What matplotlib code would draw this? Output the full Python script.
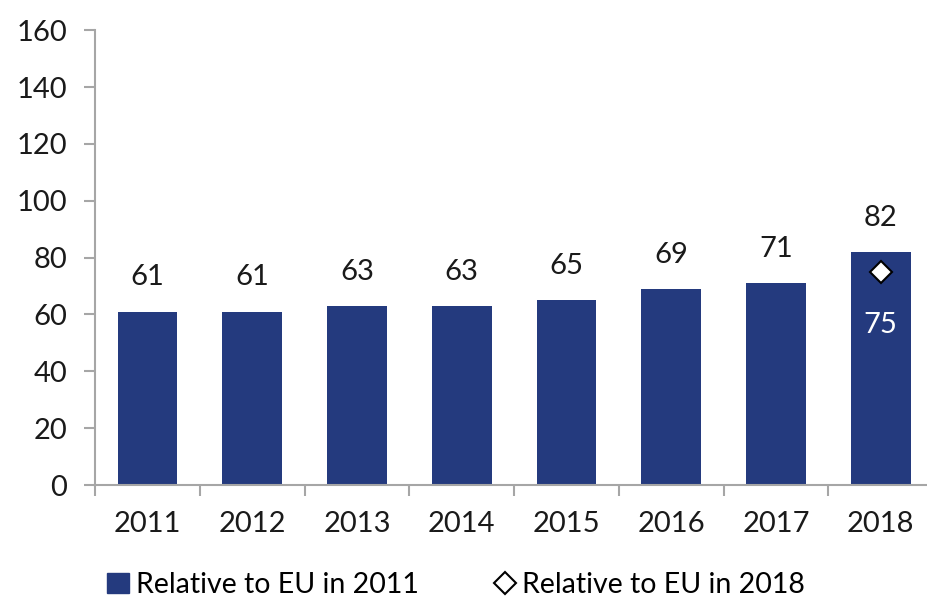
import numpy as np
import matplotlib.pyplot as plt
from matplotlib.lines import Line2D
from matplotlib.patches import Patch

years = ['2011', '2012', '2013', '2014', '2015', '2016', '2017', '2018']
rel_2011 = [61, 61, 63, 63, 65, 69, 71, 82]
rel_2018_year = '2018'
rel_2018 = 75

plt.rcParams['font.family'] = ['Lato', 'DejaVu Sans']
navy = '#243a7e'
grey = '#a6a6a6'

fig = plt.figure(figsize=(9.27, 6.04), dpi=100)
ax = fig.add_axes([0.1025, 0.197, 0.904, 0.753])

x = np.arange(len(years))
ax.bar(x, rel_2011, width=0.57, color=navy, zorder=2)
for xi, v in zip(x, rel_2011):
    ax.text(xi, v + 7.5, str(v), ha='center', va='bottom', fontsize=21, color='#1a1a1a')

# 2018 level relative to the EU of the same year
i18 = years.index(rel_2018_year)
ax.plot(i18, rel_2018, marker='D', markersize=11, markerfacecolor='white',
        markeredgecolor='black', markeredgewidth=1.5, linestyle='none', zorder=3)
ax.text(i18, rel_2018 - 14, str(rel_2018), ha='center', va='top', fontsize=21, color='white')

ax.set_xlim(-0.5, len(years) - 0.5)
ax.set_ylim(0, 160)
ax.set_yticks(range(0, 161, 20))
ax.set_xticks(x)
ax.set_xticklabels(years)
ax.set_xticks(np.arange(-0.5, len(years), 1), minor=True)
ax.tick_params(axis='x', which='major', length=0, labelsize=21, pad=19, labelcolor='#1a1a1a')
ax.tick_params(axis='x', which='minor', length=8, width=1.5, color=grey, direction='out')
ax.tick_params(axis='y', length=8, width=1.5, color=grey, labelsize=21, pad=12, labelcolor='#1a1a1a')

for s in ['top', 'right']:
    ax.spines[s].set_visible(False)
for s in ['left', 'bottom']:
    ax.spines[s].set_color(grey)
    ax.spines[s].set_linewidth(1.5)

handles = [
    Patch(facecolor=navy, edgecolor=navy),
    Line2D([], [], marker='D', markersize=11, markerfacecolor='white',
           markeredgecolor='black', markeredgewidth=1.5, linestyle='none'),
]
fig.legend(handles, ['Relative to EU in 2011', 'Relative to EU in 2018'],
           loc='lower left', bbox_to_anchor=(0.088, -0.032), ncol=2, frameon=False,
           fontsize=20.5, handlelength=0.75, handletextpad=0.25, columnspacing=2.65)

fig.savefig('out.png', dpi=100)
